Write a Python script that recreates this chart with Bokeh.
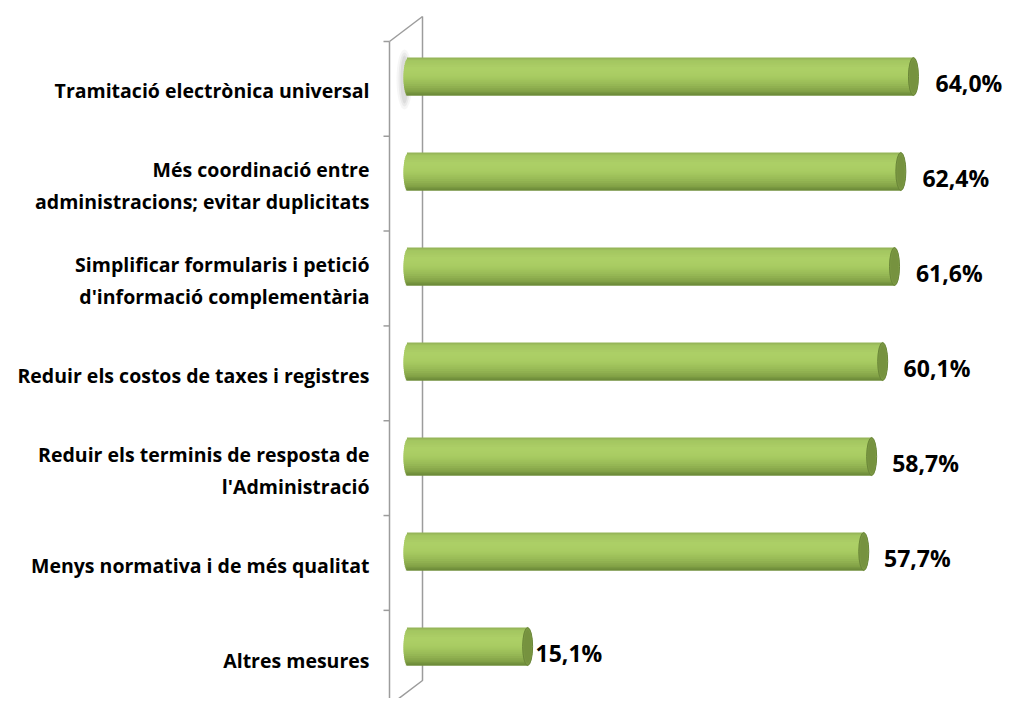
import numpy as np
from bokeh.plotting import figure
from bokeh.models import Range1d, ColumnDataSource
from bokeh.core.properties import value
from bokeh.embed import file_html
from bokeh.resources import INLINE

# ---- data ----
categories = [
    "Tramitació electrònica universal",
    "Més coordinació entre\nadministracions; evitar duplicitats",
    "Simplificar formularis i petició\nd'informació complementària",
    "Reduir els costos de taxes i registres",
    "Reduir els terminis de resposta de\nl'Administració",
    "Menys normativa i de més qualitat",
    "Altres mesures",
]
values = [64.0, 62.4, 61.6, 60.1, 58.7, 57.7, 15.1]
value_labels = ["64,0%", "62,4%", "61,6%", "60,1%", "58,7%", "57,7%", "15,1%"]

# ---- geometry (pixel model of the 3D chart) ----
W, H = 1008, 698
PX_PER_UNIT = 7.89      # px per percent
ORIGIN_X = 408.0        # plot px of value 0
ROW_PX = 95.0           # px between rows
ROW0_Y = 76.0           # plot px of first row centre

x0 = -ORIGIN_X / PX_PER_UNIT
x1 = (W - ORIGIN_X) / PX_PER_UNIT
y0 = -ROW0_Y / ROW_PX
y1 = (H - ROW0_Y) / ROW_PX


def px_x(d):
    return d / PX_PER_UNIT


def px_y(d):
    return d / ROW_PX


p = figure(width=W, height=H, x_range=Range1d(x0, x1), y_range=Range1d(y1, y0),
           output_backend="svg", toolbar_location=None, min_border=0,
           outline_line_color=None, background_fill_color="white",
           border_fill_color="white")
p.axis.visible = False
p.grid.visible = False

n = len(values)
ys = np.arange(n, dtype=float)
vals = np.array(values)

# ---- walls ----
front_x = px_x(-19)
back_x = px_x(14)
depth_y = px_y(-25)
top_front = px_y(-35)
wall_col = "#9c9c9c"
bot_back = px_y(604)
p.line([back_x, back_x, front_x], [top_front + depth_y, bot_back, bot_back - depth_y],
       line_color=wall_col, line_width=1.5)
p.line([front_x, back_x], [top_front, top_front + depth_y], line_color=wall_col, line_width=1.5)
p.line([front_x, front_x], [top_front, y1 + 1], line_color=wall_col, line_width=1.5)
tick_y = top_front + np.arange(0, 8) * 0.998
p.segment(x0=[front_x - px_x(6)] * len(tick_y), x1=[front_x] * len(tick_y),
          y0=tick_y, y1=tick_y, line_color=wall_col, line_width=1.5)

# soft shadow behind first bar on the wall
for w_, h_, a_ in [(16, 60, 0.06), (12, 54, 0.08), (8, 48, 0.10)]:
    p.ellipse(x=[px_x(-4)], y=[ys[0] + px_y(3)], width=px_x(w_), height=px_y(h_),
              fill_color="#606060", fill_alpha=a_, line_color=None)

# ---- cylinders ----
bar_h = px_y(38)
cap_a = px_x(5)   # half width of end ellipse
stops = [(0.00, (0x8e, 0xad, 0x55)), (0.07, (0xa3, 0xc5, 0x60)), (0.30, (0xad, 0xd0, 0x67)),
         (0.50, (0xa8, 0xcb, 0x62)), (0.70, (0x98, 0xba, 0x56)), (0.88, (0x84, 0xa3, 0x47)),
         (1.00, (0x68, 0x86, 0x36))]


def grad(t):
    for (t0, c0), (t1, c1) in zip(stops[:-1], stops[1:]):
        if t0 <= t <= t1:
            f = (t - t0) / (t1 - t0) if t1 > t0 else 0
            c = [int(round(c0[k] + (c1[k] - c0[k]) * f)) for k in range(3)]
            return "#%02x%02x%02x" % tuple(c)
    return "#%02x%02x%02x" % stops[-1][1]


NS = 20
sh = bar_h / NS
for k in range(NS):
    t = (k + 0.5) / NS
    top_off = -bar_h / 2 + k * sh
    bot_off = min(top_off + 2 * sh, bar_h / 2)
    rel = (t - 0.5) * 2
    left = -cap_a * np.sqrt(max(0.0, 1 - rel * rel))
    src = ColumnDataSource(dict(top=ys + top_off, bottom=ys + bot_off, right=vals,
                                left=np.full(n, left)))
    p.quad(top="top", bottom="bottom", left="left", right="right", source=src,
           fill_color=grad(t), line_color=None)

# right end caps
cap_src = ColumnDataSource(dict(x=vals, y=ys))
p.ellipse(x="x", y="y", width=2 * cap_a, height=bar_h, source=cap_src,
          fill_color="#7b9843", line_color="#6a8638", line_width=1)
p.ellipse(x="x", y="y", width=2 * cap_a * 0.7, height=bar_h * 0.85, source=cap_src,
          fill_color="#76923f", line_color=None)

# ---- category labels ----
cat_src = ColumnDataSource(dict(x=np.full(n, px_x(-39)), y=ys + px_y(14), t=categories))
p.text(x="x", y="y", text="t", source=cat_src, text_align="right", text_baseline="middle",
       text_font=value("Open Sans"), text_font_style="bold", text_font_size="19.5px",
       text_color="#000000", text_line_height=1.18)

# ---- value labels ----
lab_x = (3.5 + 8.18 * vals) / PX_PER_UNIT
val_src = ColumnDataSource(dict(x=lab_x, y=ys + px_y(6), t=value_labels))
p.text(x="x", y="y", text="t", source=val_src, text_align="left", text_baseline="middle",
       text_font=value("Open Sans"), text_font_style="bold", text_font_size="23px",
       text_color="#000000")

open("out.html", "w").write(file_html(p, INLINE))
